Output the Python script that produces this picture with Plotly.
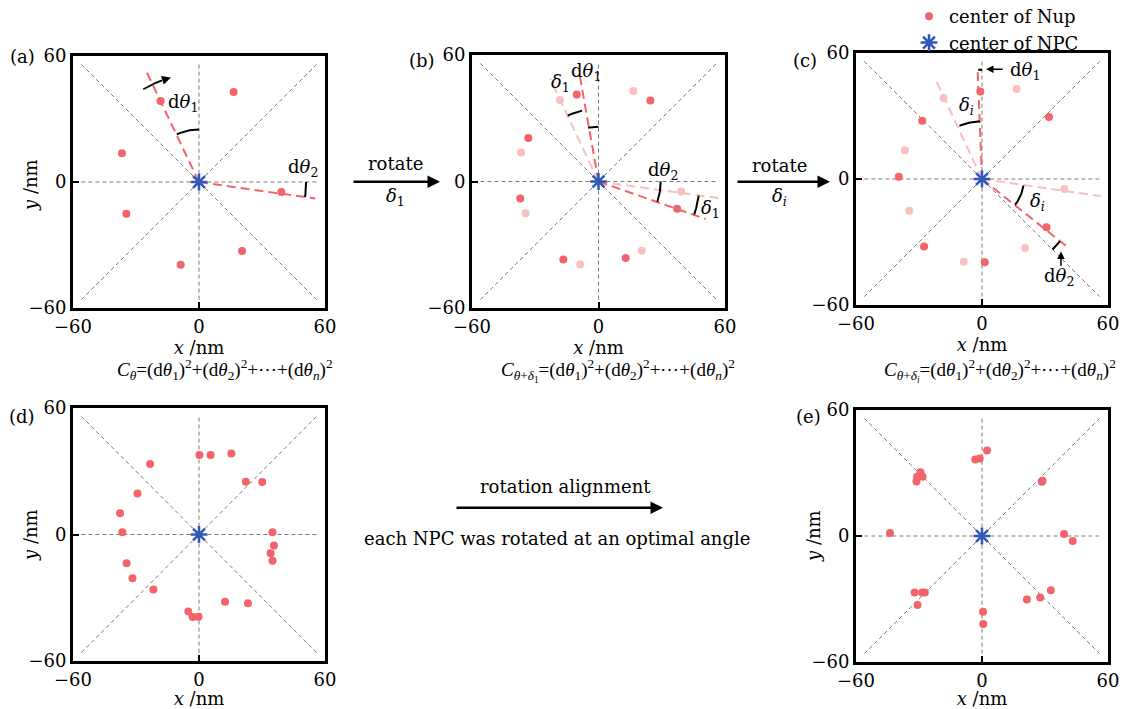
import numpy as np
import plotly.graph_objects as go

# ---------------- data ----------------
AX_RANGE = [-60, 60]
TICKS = [-60, 0, 60]
TICK_TEXT = ["\u221260", "0", "60"]
GUIDE_R = 56

# (a) original Nup centres
A_X = [-18.3, 16.5, -36.7, 39.2, -34.6, 20.5, -8.7]
A_Y = [38.6, 42.9, 13.7, -4.8, -15.1, -32.9, -39.4]
# (b) rotated by delta_1
B_X = [-10.3, 24.6, -33.3, 37.3, -37.1, 12.9, -16.7]
B_Y = [41.3, 38.4, 20.6, -12.9, -8.1, -36.3, -37.0]
# (c) rotated by delta_i
C_X = [-0.8, 31.9, -28.5, -39.6, 30.7, -27.6, 1.3]
C_Y = [41.7, 29.5, 27.7, 1.1, -23.0, -32.2, -39.6]
# (d) several NPCs before alignment
D_X = [0.2, 5.5, 15.4, -23.3, 22.3, 30.1, -29.3, -37.6, -36.5, 35.0, 35.7,
       34.1, 35.0, -34.5, -31.7, -21.7, 12.4, 23.3, -5.1, -3.0, -0.2]
D_Y = [37.7, 37.7, 38.4, 33.4, 25.0, 24.9, 19.5, 10.1, 1.1, 1.1, -5.2,
       -8.9, -12.4, -13.6, -20.8, -26.1, -31.9, -32.6, -36.5, -39.1, -39.0]
# (e) after rotation alignment
E_X = [2.4, -3.2, -1.1, -29.3, -30.9, -28.3, -31.2, 28.5, 28.8, -43.8, 39.1,
       43.2, -32.1, -28.5, -27.2, -30.7, 32.8, 27.7, 21.4, 0.5, 0.6]
E_Y = [40.7, 36.4, 36.9, 30.4, 28.2, 28.2, 25.9, 25.8, 26.3, 1.4, 0.9,
       -2.4, -26.9, -26.9, -26.9, -32.8, -25.8, -29.3, -30.2, -36.1, -41.9]

# dashed rays from the NPC centre (end points)
A_RAYS_DARK = [(-24.8, 52.1), (55.4, -7.9)]
B_RAYS_LIGHT = [(-23.0, 48.9), (57.1, -7.9)]
B_RAYS_DARK = [(-9.2, 52.0), (50.8, -17.8)]
C_RAYS_LIGHT = [(-22.5, 48.3), (56.6, -8.2)]
C_RAYS_DARK = [(-2.1, 52.6), (41.2, -32.8)]

# angle arcs: (radius, start deg, end deg)
A_ARCS = [(25, 90, 115), (51, 0, -8)]
B_ARCS = [(26, 90, 101), (34.5, 103, 115), (29.5, 0, -19), (48, -8, -19)]
C_ARCS = [(27.5, 92, 113), (20, -9, -38), (47.5, -38.5, -45), (52, 90, 92)]
A_TURN = (51.5, 121, 110, 105)   # curved arrow: radius, start, arrow tail, head

# ---------------- style ----------------
NUP = "#F2636B"
NUP_LIGHT = "#F8C0C1"
NPC = "#2F58B8"
GUIDE = "#7A7A7A"
FONT = "DejaVu Serif"
FFONT = "Liberation Serif"
FS = 18

# the page body has an 8 px margin: the figure is sized to the visible area
OFF = 8
W, H = 1140 - OFF, 709 - OFF


def PX(x):
    return (x - OFF) / W


def PY(y):
    return 1 - (y - OFF) / H


DOMAINS = {
    "": ([PX(73), PX(325)], [PY(308), PY(56)]),
    "2": ([PX(472), PX(725)], [PY(308), PY(55)]),
    "3": ([PX(856), PX(1108)], [PY(305), PY(53)]),
    "4": ([PX(73), PX(325)], [PY(661), PY(408)]),
    "5": ([PX(856), PX(1108)], [PY(662), PY(410)]),
}
# y-axis title positions (reference pixels): only panels (a), (d), (e)
YTITLE_POS = {"": (30, 185), "4": (30, 535), "5": (813, 536)}

fig = go.Figure()


def ax_ids(k):
    return "x" + k, "y" + k


def add_guides(k):
    xa, ya = ax_ids(k)
    r = GUIDE_R
    segs = [((-r, r), (0, 0)), ((0, 0), (-r, r)), ((-r, r), (-r, r)), ((-r, r), (r, -r))]
    for sx, sy in segs:
        fig.add_trace(go.Scatter(x=list(sx), y=list(sy), mode="lines", xaxis=xa, yaxis=ya,
                                 line=dict(color=GUIDE, width=1, dash="4px,3px"),
                                 showlegend=False, hoverinfo="skip"))


def add_rays(k, rays, color):
    xa, ya = ax_ids(k)
    for ex, ey in rays:
        fig.add_trace(go.Scatter(x=[0, ex], y=[0, ey], mode="lines", xaxis=xa, yaxis=ya,
                                 line=dict(color=color, width=2, dash="9px,5px"),
                                 showlegend=False, hoverinfo="skip"))


def add_arcs(k, arcs):
    xa, ya = ax_ids(k)
    for r, a0, a1 in arcs:
        t = np.radians(np.linspace(a0, a1, 30))
        fig.add_trace(go.Scatter(x=r * np.cos(t), y=r * np.sin(t), mode="lines",
                                 xaxis=xa, yaxis=ya, line=dict(color="black", width=2),
                                 showlegend=False, hoverinfo="skip"))


def add_points(k, xs, ys, color, legend=False):
    xa, ya = ax_ids(k)
    fig.add_trace(go.Scatter(x=xs, y=ys, mode="markers", xaxis=xa, yaxis=ya,
                             marker=dict(color=color, size=8),
                             name="center of Nup", showlegend=legend, hoverinfo="skip"))


def add_star(k, legend=False):
    xa, ya = ax_ids(k)
    fig.add_trace(go.Scatter(x=[0], y=[0], mode="markers", xaxis=xa, yaxis=ya,
                             marker=dict(symbol="asterisk-open", size=14, color=NPC,
                                         line=dict(color=NPC, width=2.5)),
                             name="center of NPC", showlegend=legend, hoverinfo="skip"))


# panel (a)
add_guides("")
add_rays("", A_RAYS_DARK, NUP)
add_arcs("", A_ARCS)
r, a0, a1, a2 = A_TURN
tt = np.radians(np.linspace(a0, a1, 20))
fig.add_trace(go.Scatter(x=r * np.cos(tt), y=r * np.sin(tt), mode="lines", xaxis="x", yaxis="y",
                         line=dict(color="black", width=1.8), showlegend=False, hoverinfo="skip"))
add_points("", A_X, A_Y, NUP, legend=True)
add_star("", legend=True)

# panel (b)
add_guides("2")
add_rays("2", B_RAYS_LIGHT, NUP_LIGHT)
add_rays("2", B_RAYS_DARK, NUP)
add_arcs("2", B_ARCS)
add_points("2", A_X, A_Y, NUP_LIGHT)
add_points("2", B_X, B_Y, NUP)
add_star("2")

# panel (c)
add_guides("3")
add_rays("3", C_RAYS_LIGHT, NUP_LIGHT)
add_rays("3", C_RAYS_DARK, NUP)
add_arcs("3", C_ARCS)
add_points("3", A_X, A_Y, NUP_LIGHT)
add_points("3", C_X, C_Y, NUP)
add_star("3")

# panels (d), (e)
add_guides("4")
add_points("4", D_X, D_Y, NUP)
add_star("4")
add_guides("5")
add_points("5", E_X, E_Y, NUP)
add_star("5")

# ---------------- axes ----------------
layout_axes = {}
for k, (xd, yd) in DOMAINS.items():
    common = dict(range=AX_RANGE, tickvals=TICKS, ticktext=TICK_TEXT, showgrid=False,
                  zeroline=False, showline=True, mirror=True, linecolor="black", linewidth=3,
                  ticks="inside", ticklen=6, tickwidth=2, tickcolor="black", automargin=False,
                  tickfont=dict(family=FONT, size=FS, color="black"), fixedrange=True)
    layout_axes["xaxis" + k] = dict(common, domain=xd, anchor="y" + k,
                                    title=dict(text="<i>x</i> /nm", standoff=2,
                                               font=dict(family=FONT, size=FS, color="black")))
    layout_axes["yaxis" + k] = dict(common, domain=yd, anchor="x" + k)

# ---------------- annotations ----------------
ann = []


def txt(text, x, y, xref="paper", yref="paper", size=FS, xanchor="center", family=FONT, angle=0):
    ann.append(dict(text=text, x=x, y=y, xref=xref, yref=yref, showarrow=False,
                    xanchor=xanchor, yanchor="middle", textangle=angle,
                    font=dict(family=family, size=size, color="black")))


def arrow(x, y, ax, ay, xref, yref, axref, ayref, width):
    ann.append(dict(text="", x=x, y=y, ax=ax, ay=ay, xref=xref, yref=yref, axref=axref,
                    ayref=ayref, showarrow=True, arrowhead=2, arrowsize=1,
                    arrowwidth=width, arrowcolor="black", standoff=0, startstandoff=0))


D1 = "d<i>\u03b8</i><sub>1</sub>"
D2 = "d<i>\u03b8</i><sub>2</sub>"
DL1 = "<i>\u03b4</i><sub>1</sub>"
DLI = "<i>\u03b4</i><sub><i>i</i></sub>"

# y-axis titles
for k, (px, py) in YTITLE_POS.items():
    txt("<i>y</i> /nm", PX(px), PY(py), angle=-90)

# panel labels
for lab, px, py in [("(a)", 22, 56), ("(b)", 422, 61), ("(c)", 805, 60), ("(d)", 22, 416), ("(e)", 808, 417)]:
    txt(lab, PX(px), PY(py))

# (a)
txt(D1, -7.8, 37.8, "x", "y")
txt(D2, 49.4, 6.5, "x", "y")
hx, hy = r * np.cos(np.radians(a2)), r * np.sin(np.radians(a2))
tx, ty = r * np.cos(np.radians(a1)), r * np.sin(np.radians(a1))
arrow(hx, hy, tx, ty, "x", "y", "x", "y", 1.8)
# (b)
txt(DL1, -18.2, 46.8, "x2", "y2")
txt(D1, -6.0, 51.8, "x2", "y2")
txt(D2, 30.8, 5.2, "x2", "y2")
txt(DL1, 53.0, -13.0, "x2", "y2")
# (c)
txt(DLI, -7.6, 34.9, "x3", "y3")
txt(DLI, 26.5, -11.1, "x3", "y3")
txt(D1, 20.4, 51.6, "x3", "y3")
txt(D2, 36.8, -46.6, "x3", "y3")
arrow(1.9, 52.3, 10.6, 52.3, "x3", "y3", "x3", "y3", 1.5)
arrow(37.6, -34.5, 37.6, -42.0, "x3", "y3", "x3", "y3", 1.5)

# between-panel arrows
arrow(PX(440), PY(181.7), -88, 0, "paper", "paper", "pixel", "pixel", 2.5)
txt("rotate", PX(395), PY(163))
txt(DL1, PX(395), PY(197))
arrow(PX(830), PY(181.7), -94, 0, "paper", "paper", "pixel", "pixel", 2.5)
txt("rotate", PX(779), PY(166))
txt(DLI, PX(779), PY(197))
arrow(PX(663), PY(507.7), -208, 0, "paper", "paper", "pixel", "pixel", 2.5)
txt("rotation alignment", PX(565), PY(486))
txt("each NPC was rotated at an optimal angle", PX(557), PY(538))

# cost formulas
TAIL = ("=(d<i>\u03b8</i><sub>1</sub>)<sup>2</sup>+(d<i>\u03b8</i><sub>2</sub>)<sup>2</sup>"
        "+\u22ef+(d<i>\u03b8</i><sub><i>n</i></sub>)<sup>2</sup>")
txt("<i>C</i><sub><i>\u03b8</i></sub>" + TAIL, PX(225), PY(369), size=19, family=FFONT)
txt("<i>C</i><sub><i>\u03b8</i>+<i>\u03b4</i><sub>1</sub></sub>" + TAIL, PX(618), PY(370),
    size=19, family=FFONT)
txt("<i>C</i><sub><i>\u03b8</i>+<i>\u03b4</i><sub><i>i</i></sub></sub>" + TAIL, PX(1000), PY(370),
    size=19, family=FFONT)

fig.update_layout(
    width=W, height=H, margin=dict(l=0, r=0, t=0, b=0, autoexpand=False),
    paper_bgcolor="white", plot_bgcolor="white",
    font=dict(family=FONT, size=FS, color="black"),
    showlegend=True,
    legend=dict(x=PX(909), y=PY(-2), xanchor="left", yanchor="top",
                bgcolor="rgba(0,0,0,0)", font=dict(family=FONT, size=FS, color="black"),
                itemwidth=30, tracegroupgap=0),
    annotations=ann,
    **layout_axes,
)

fig.write_html("out.html")
